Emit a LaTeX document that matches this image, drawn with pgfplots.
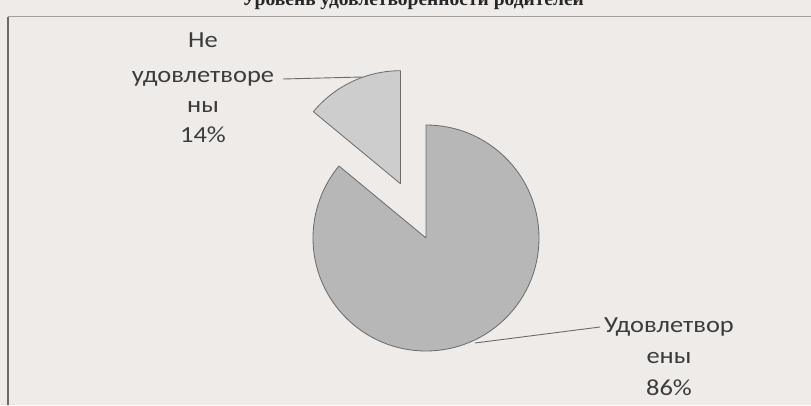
\documentclass[border=0pt]{standalone}
\usepackage{pgfplots}
\usepackage{pgfplotstable}
\pgfplotsset{compat=1.18}
\usepackage{fontspec}
\setmainfont{Carlito}
\newfontfamily\labfont[FakeStretch=1.15]{Carlito}
\newfontfamily\titlefont{Liberation Serif}
\definecolor{bg}{HTML}{EEEBE8}
\definecolor{txt}{HTML}{3C3C3C}
\definecolor{sliceA}{HTML}{B7B7B7}
\definecolor{sliceB}{HTML}{CDCDCD}
\definecolor{edge}{HTML}{6A6A6A}
\pgfplotstableread{
part value
0 86
1 14
}\piedata
\begin{document}
\begin{tikzpicture}
\pgfplotstablegetelem{0}{value}\of\piedata \let\vA\pgfplotsretval
\pgfplotstablegetelem{1}{value}\of\piedata \let\vB\pgfplotsretval
\pgfmathsetmacro{\aEnd}{90-3.6*\vA}
\pgfmathsetmacro{\bEnd}{90+3.6*\vB}
\pgfmathsetmacro{\bMid}{90+1.8*\vB}
\def\R{113}
\def\cx{426}
\def\cy{167}
\pgfmathsetmacro{\ex}{\cx+60*cos(\bMid)}
\pgfmathsetmacro{\ey}{\cy+60*sin(\bMid)}
\begin{axis}[x=1pt,y=1pt,xmin=0,xmax=811,ymin=0,ymax=405,
  hide axis,clip=false,anchor=south west,at={(0,0)}]
\fill[bg] (axis cs:0,0) rectangle (axis cs:811,405);
\coordinate (BL) at (axis cs:0,0);
\coordinate (TR) at (axis cs:811,405);
% frame
\draw[gray!75,line width=1pt] (axis cs:8,388) -- (axis cs:811,388);
\draw[edge,line width=1.2pt] (axis cs:8,388) -- (axis cs:8,0);
% title (cut off at the top, as in the reference)
\node[anchor=base,font=\titlefont\bfseries\fontsize{19.5}{22}\selectfont,text=black!85] at (axis cs:413,399) {Уровень удовлетворенности родителей};
% main slice 86%
\fill[sliceA,draw=edge,line width=0.8pt,line join=round]
  (axis cs:\cx,\cy) -- (axis cs:\cx,{\cy+\R}) arc[start angle=90,end angle=\aEnd,radius=\R pt] -- cycle;
% exploded slice 14%
\fill[sliceB,draw=edge,line width=0.8pt,line join=round]
  (axis cs:\ex,\ey) -- (axis cs:\ex,{\ey+\R}) arc[start angle=90,end angle=\bEnd,radius=\R pt] -- cycle;
% leader lines
\draw[edge,line width=0.9pt] (axis cs:283,326) -- (axis cs:362,328);
\draw[edge,line width=0.9pt] (axis cs:475,62) -- (axis cs:600,78);
% labels
\begin{scope}[every node/.style={anchor=base,text=txt,font=\labfont\fontsize{23}{26}\selectfont,inner sep=0pt}]
\node at (axis cs:203,357) {Не};
\node at (axis cs:203,322) {удовлетворе};
\node at (axis cs:203,292) {ны};
\node at (axis cs:203,262) {14\%};
\node at (axis cs:669,73) {Удовлетвор};
\node at (axis cs:669,42) {ены};
\node at (axis cs:669,10) {86\%};
\end{scope}
\end{axis}
\pgfresetboundingbox
\path[use as bounding box] (BL) rectangle (TR);
\end{tikzpicture}
\end{document}
